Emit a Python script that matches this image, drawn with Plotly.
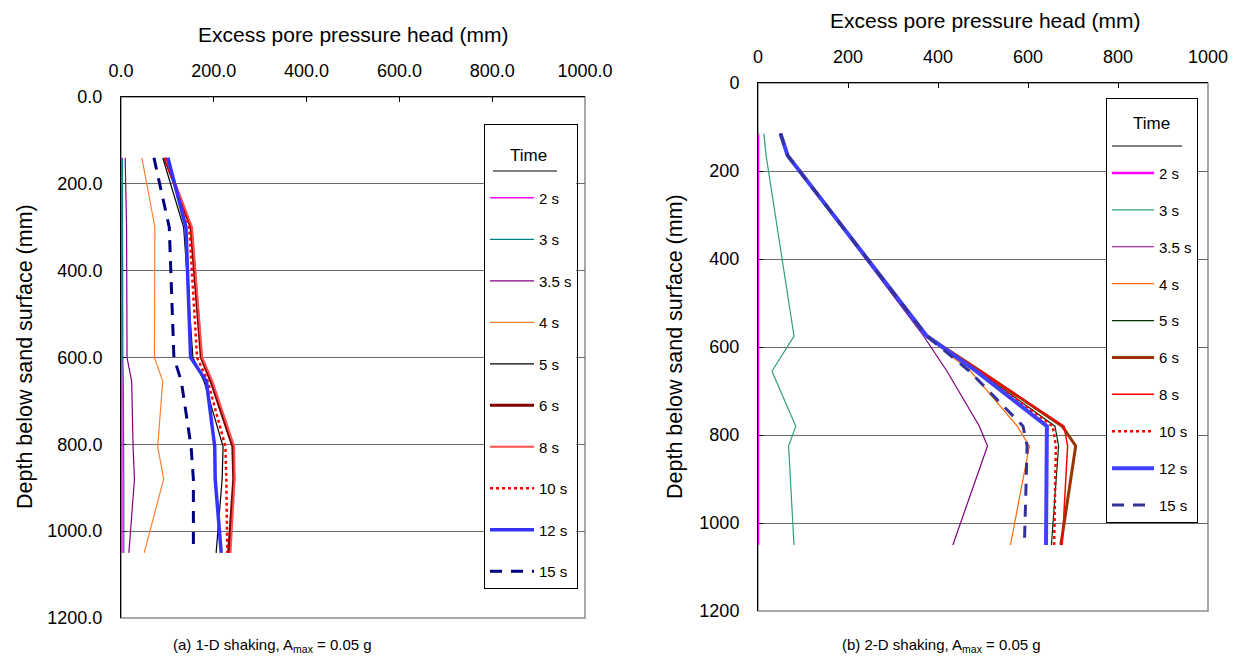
import plotly.graph_objects as go

W, H = 1238, 656

# ---------------- data ----------------
times = ["2 s", "3 s", "3.5 s", "4 s", "5 s", "6 s", "8 s", "10 s", "12 s", "15 s"]

# (a) 1-D shaking
depth_a = [140, 300, 600, 655, 805, 880, 1050]
a_2s = [2, 2, 2, 2, 2, 2, 2]
a_3s = [3, 3, 4, 5, 6, 6, 6]
a_35s = [9, 12, 13, 23, 26, 29, 17]
a_4s = [45, 73, 72, 90, 79, 92, 50]
a_5s = [90, 135, 155, 179, 220, 218, 205]
a_6s = [94, 151, 173, 194, 241, 243, 232]
a_8s = [96, 153, 175, 197, 244, 245, 236]
a_10s = [95, 147, 164, 187, 225, 227, 229]
a_12s = [101, 140, 150, 184, 202, 203, 216]
a_15s = [71, 104, 114, 130, 151, 156, 156]

# (b) 2-D shaking
depth_b = [115, 165, 575, 655, 780, 825, 1050]
b_2s = [0, 0, 0, 0, 0, 0, 0]
b_3s = [13, 18, 80, 31, 84, 68, 80]
b_35s = [50, 66, 368, 420, 492, 510, 433]
b_4s = [50, 66, 375, 472, 576, 603, 561]
b_5s = [50, 66, 375, 490, 660, 668, 652]
b_6s = [50, 66, 375, 495, 676, 706, 673]
b_8s = [50, 66, 375, 495, 680, 688, 676]
b_10s = [50, 66, 375, 490, 655, 662, 658]
b_12s = [50, 66, 375, 485, 642, 642, 640]
b_15s = [50, 66, 375, 470, 589, 598, 592]

x_ticks = [0, 200, 400, 600, 800, 1000]
y_ticks = [0, 200, 400, 600, 800, 1000, 1200]

# ---------------- styles ----------------
style_a = {
    "2 s": dict(color="#FF00FF", width=1.5),
    "3 s": dict(color="#008080", width=1.2),
    "3.5 s": dict(color="#800080", width=1.2),
    "4 s": dict(color="#FF8030", width=1.2),
    "5 s": dict(color="#000000", width=1.2),
    "6 s": dict(color="#800000", width=3),
    "8 s": dict(color="#FF5050", width=2),
    "10 s": dict(color="#FF0000", width=2.5, dash="dot"),
    "12 s": dict(color="#3333FF", width=3.5),
    "15 s": dict(color="#000080", width=3, dash="12px,9px"),
}
style_b = {
    "2 s": dict(color="#FF00FF", width=2.5),
    "3 s": dict(color="#33A070", width=1.2),
    "3.5 s": dict(color="#800080", width=1.2),
    "4 s": dict(color="#FF6600", width=1.2),
    "5 s": dict(color="#003300", width=1.2),
    "6 s": dict(color="#993300", width=3),
    "8 s": dict(color="#FF0000", width=1.5),
    "10 s": dict(color="#FF0000", width=2.5, dash="dot"),
    "12 s": dict(color="#4040FF", width=4),
    "15 s": dict(color="#333399", width=3, dash="12px,9px"),
}

series_a = [a_2s, a_3s, a_35s, a_4s, a_5s, a_6s, a_8s, a_10s, a_12s, a_15s]
series_b = [b_2s, b_3s, b_35s, b_4s, b_5s, b_6s, b_8s, b_10s, b_12s, b_15s]

fig = go.Figure()
for t, vals in zip(times, series_a):
    fig.add_trace(go.Scatter(x=vals, y=depth_a, mode="lines", name=t,
                             line=style_a[t], xaxis="x", yaxis="y",
                             legend="legend", legendgroup="a" + t))
for t, vals in zip(times, series_b):
    fig.add_trace(go.Scatter(x=vals, y=depth_b, mode="lines", name=t,
                             line=style_b[t], xaxis="x2", yaxis="y2",
                             legend="legend2", legendgroup="b" + t))

FONT = "Liberation Sans, Arial, sans-serif"
TICK = 18
TITLE = 21
LEG = 15


def px_x(p):
    return p / W


def px_y(p):
    return 1 - p / H


# plot areas (pixels)
A = dict(l=121, r=585, t=97, b=618)
B = dict(l=758, r=1208, t=83, b=611)

common_x = dict(side="top", range=[0, 1000], tickvals=x_ticks, showgrid=False,
                zeroline=False, showline=True, linecolor="black", linewidth=1,
                ticks="inside", ticklen=5, tickcolor="black", automargin=False,
                layer="below traces", ticklabelstandoff=12,
                tickfont=dict(family=FONT, size=TICK, color="black"))
common_y = dict(range=[1200, 0], tickvals=y_ticks, showgrid=True,
                gridcolor="#6a6a6a", gridwidth=1, zeroline=False,
                showline=True, linecolor="black", linewidth=1,
                ticks="inside", ticklen=5, tickcolor="black", automargin=False,
                layer="below traces", ticklabelstandoff=14,
                tickfont=dict(family=FONT, size=TICK, color="black"))

# legend title is reserved blank space; the visible "Time" is an annotation
BLANK = "&nbsp;<br>&nbsp;<br>&nbsp;"

fig.update_layout(
    template="none",
    width=W, height=H,
    margin=dict(l=0, r=0, t=0, b=0, autoexpand=False),
    paper_bgcolor="white", plot_bgcolor="white",
    font=dict(family=FONT, color="black"),
    xaxis=dict(common_x, domain=[px_x(A["l"]), px_x(A["r"])], anchor="y", tickformat=".1f"),
    yaxis=dict(common_y, domain=[px_y(A["b"]), px_y(A["t"])], anchor="x", tickformat=".1f"),
    xaxis2=dict(common_x, domain=[px_x(B["l"]), px_x(B["r"])], anchor="y2", tickformat="d"),
    yaxis2=dict(common_y, domain=[px_y(B["b"]), px_y(B["t"])], anchor="x2", tickformat="d"),
    legend=dict(x=px_x(484), y=px_y(124), xanchor="left", yanchor="top",
                bgcolor="rgba(0,0,0,0)", bordercolor="black", borderwidth=1,
                font=dict(family=FONT, size=LEG, color="black"),
                title=dict(text=BLANK, font=dict(family=FONT, size=14.5), side="top"),
                tracegroupgap=19, itemwidth=44),
    legend2=dict(x=px_x(1106), y=px_y(98), xanchor="left", yanchor="top",
                 bgcolor="rgba(0,0,0,0)", bordercolor="black", borderwidth=1,
                 font=dict(family=FONT, size=LEG, color="black"),
                 title=dict(text=BLANK, font=dict(family=FONT, size=14.8), side="top"),
                 tracegroupgap=14.4, itemwidth=42),
    showlegend=True,
)

# grey plot-area borders (right and bottom edges)
for xr, yr in (("x domain", "y domain"), ("x2 domain", "y2 domain")):
    fig.add_shape(type="rect", xref=xr, yref=yr, x0=0, x1=1, y0=0, y1=1,
                  line=dict(color="#8a8a8a", width=1.5), layer="below")

# white backing behind each legend (hides grid lines), then the heading underline
for (l, t, r, b) in ((485, 125, 576, 589), (1107, 99, 1197, 522)):
    fig.add_shape(type="rect", xref="paper", yref="paper",
                  x0=px_x(l), x1=px_x(r), y0=px_y(b), y1=px_y(t),
                  line=dict(width=0), fillcolor="white", layer="above")
fig.add_shape(type="line", xref="paper", yref="paper",
              x0=px_x(493), x1=px_x(557), y0=px_y(171), y1=px_y(171),
              line=dict(color="black", width=1))
fig.add_shape(type="line", xref="paper", yref="paper",
              x0=px_x(1112), x1=px_x(1182), y0=px_y(146), y1=px_y(146),
              line=dict(color="black", width=1))


def note(x, y, text, size, angle=0, family=FONT):
    fig.add_annotation(x=px_x(x), y=px_y(y), xref="paper", yref="paper",
                       text=text, showarrow=False, textangle=angle,
                       xanchor="center", yanchor="middle",
                       font=dict(family=family, size=size, color="black"))


# legend headings
note(528, 155, "Time", 17)
note(1151, 124, "Time", 17)

# axis titles
note(353, 35, "Excess pore pressure head (mm)", TITLE)
note(985, 20, "Excess pore pressure head (mm)", TITLE)
note(25, 357, "Depth below sand surface (mm)", 21.5, angle=-90)
note(675, 347, "Depth below sand surface (mm)", 21.5, angle=-90)

# captions
note(272, 645, "(a) 1-D shaking, A<sub>max</sub> = 0.05 g", 15)
note(941, 645, "(b) 2-D shaking, A<sub>max</sub> = 0.05 g", 15)

fig.write_html("out.html")
